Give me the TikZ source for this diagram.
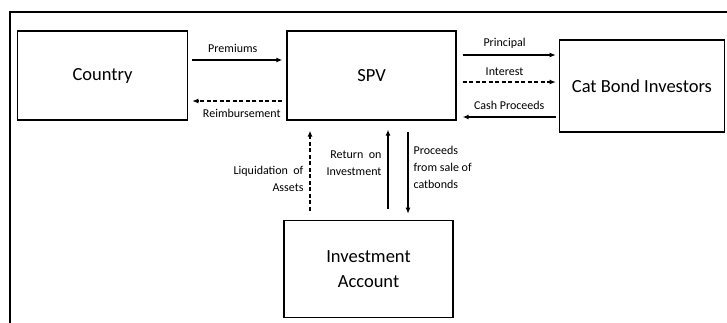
\documentclass[tikz,border=0pt]{standalone}
\usepackage{fontspec}
\setmainfont{Carlito}
\usetikzlibrary{positioning, arrows.meta}

\begin{document}
\begin{tikzpicture}[x=1pt, y=1pt, node distance=98pt,
		>={Latex[length=6pt,width=5pt]},
		box/.style={draw, line width=1.4pt, inner sep=0pt, align=center, font=\fontsize{18.5}{25}\selectfont},
		lbl/.style={draw=none, fill=none, inner sep=2pt, font=\fontsize{12}{17}\selectfont},
		flow/.style={line width=1.1pt},
		back/.style={line width=1.1pt, dash pattern=on 4pt off 2.5pt}]
			\useasboundingbox (0,0) rectangle (727,-322);
			\draw[line width=2.2pt] (10,-340) -- (10,-12) -- (740,-12);

			\node[box, minimum width=169pt, minimum height=89pt] (SPV) at (371.5,-75.5) {SPV};
			\node[box, minimum width=170pt, minimum height=89pt, left=of SPV] (Country) {Country};
			\node[box, minimum width=165pt, minimum height=92pt, right=102pt of SPV, yshift=-10.5pt] (Inv) {Cat Bond Investors};
			\node[box, minimum width=169pt, minimum height=97pt, below=99pt of SPV, xshift=-3pt] (Acc) {Investment\\Account};

			\draw[flow, ->] ([xshift=4pt,yshift=15.5pt]Country.east) -- node[lbl, above=5pt, pos=0.45] {Premiums} ([xshift=-4pt,yshift=15.5pt]SPV.west);
			\draw[back, ->] ([xshift=-4pt,yshift=-25.5pt]SPV.west) -- node[lbl, below=6pt, pos=0.45] {Reimbursement} ([xshift=4pt,yshift=-25.5pt]Country.east);

			\draw[flow, ->] ([xshift=6pt,yshift=20.5pt]SPV.east) -- node[lbl, above=4pt, pos=0.45] {Principal} ([xshift=-3pt,yshift=31pt]Inv.west);
			\draw[back, ->] ([xshift=6pt,yshift=-6.5pt]SPV.east) -- node[lbl, above=4pt, pos=0.45] {Interest} ([xshift=-3pt,yshift=4pt]Inv.west);
			\draw[flow, ->] ([xshift=-3pt,yshift=-31pt]Inv.west) -- node[lbl, above=5pt] {Cash Proceeds} ([xshift=6pt,yshift=-41.5pt]SPV.east);

			\draw[back, ->] ([xshift=-58.5pt,yshift=9pt]Acc.north) -- node[lbl, left=4pt, pos=0.4, align=right] {Liquidation\ \ of\\Assets} ([xshift=-61.5pt,yshift=-10pt]SPV.south);
			\draw[flow, ->] ([xshift=19.5pt,yshift=11pt]Acc.north) -- node[lbl, left=4pt, pos=0.57, align=right] {Return\ \ on\\Investment} ([xshift=16.5pt,yshift=-9pt]SPV.south);
			\draw[flow, ->] ([xshift=36.5pt,yshift=-11pt]SPV.south) -- node[lbl, right=3pt, pos=0.44, align=left] {Proceeds\\from sale of\\catbonds} ([xshift=39.5pt,yshift=6pt]Acc.north);
		\end{tikzpicture}
\end{document}
